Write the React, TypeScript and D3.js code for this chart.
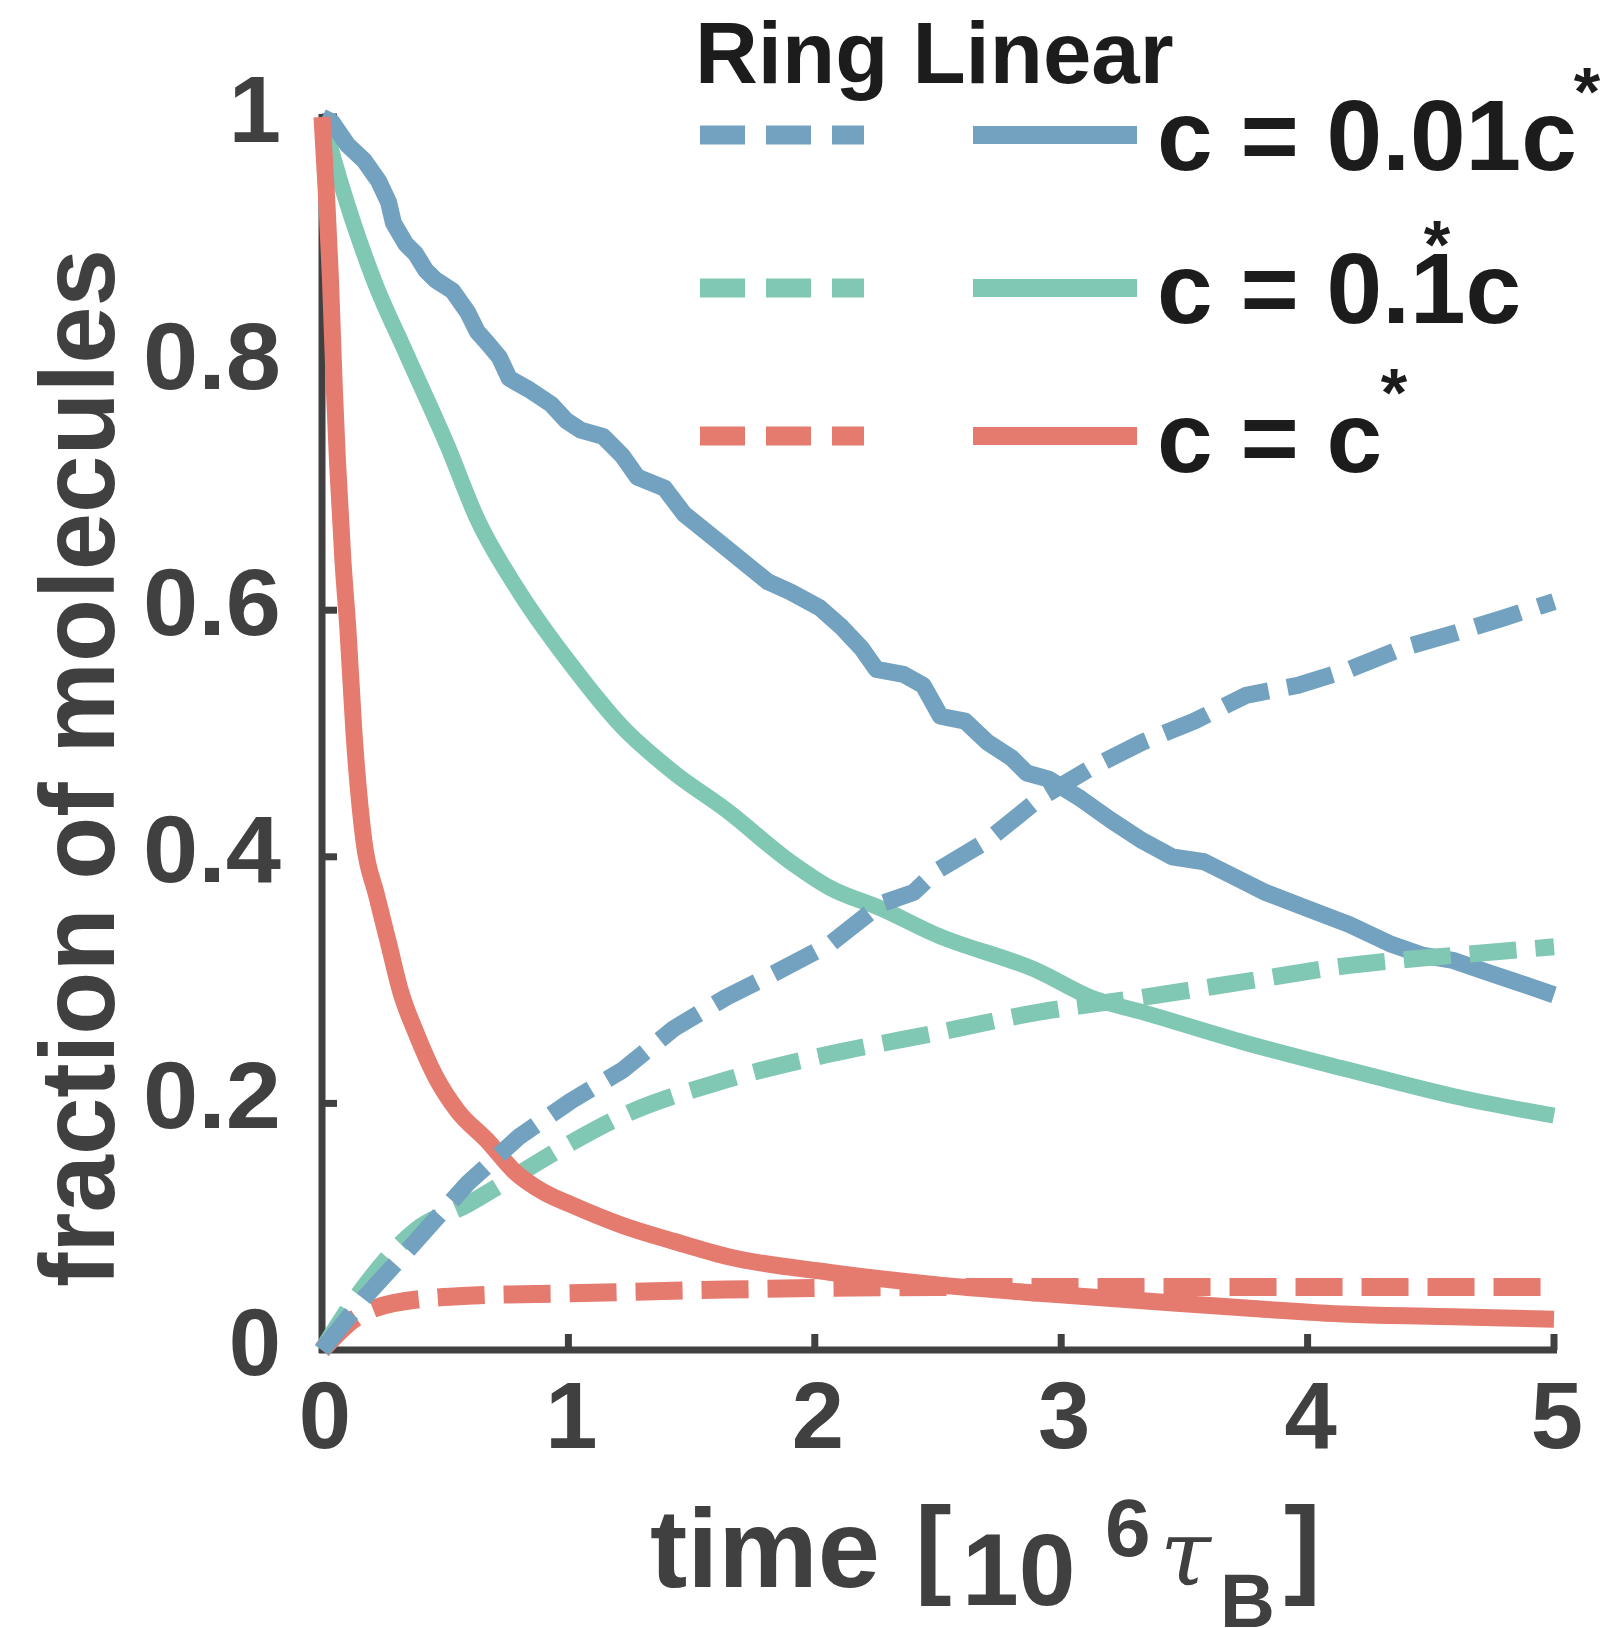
import React from 'react';
import * as d3 from 'd3';

// time in 10^6 tau_B, fraction of molecules
const linear001: [number, number][] = [
  [0, 1.0], [0.04, 0.996], [0.105, 0.977], [0.17, 0.965], [0.23, 0.948], [0.27, 0.931],
  [0.29, 0.914], [0.34, 0.897], [0.38, 0.889], [0.42, 0.876], [0.46, 0.868], [0.53, 0.859],
  [0.59, 0.842], [0.63, 0.826], [0.67, 0.817], [0.72, 0.805], [0.76, 0.788], [0.84, 0.779],
  [0.93, 0.767], [0.99, 0.754], [1.05, 0.746], [1.14, 0.741], [1.22, 0.725], [1.28, 0.708],
  [1.39, 0.699], [1.47, 0.678], [1.60, 0.657], [1.68, 0.644], [1.81, 0.623], [1.90, 0.615],
  [2.02, 0.602], [2.11, 0.586], [2.19, 0.569], [2.25, 0.552], [2.36, 0.548], [2.44, 0.539],
  [2.51, 0.514], [2.61, 0.510], [2.70, 0.493], [2.80, 0.480], [2.86, 0.468], [2.95, 0.463],
  [3.08, 0.447], [3.20, 0.430], [3.33, 0.413], [3.45, 0.400], [3.58, 0.396], [3.71, 0.383],
  [3.83, 0.371], [4.00, 0.358], [4.17, 0.345], [4.34, 0.329], [4.47, 0.320], [4.59, 0.316],
  [4.72, 0.307], [4.84, 0.299], [5.0, 0.288],
];

const linear01: [number, number][] = [
  [0, 1.0], [0.08, 0.944], [0.21, 0.868], [0.34, 0.809], [0.51, 0.733], [0.63, 0.674],
  [0.80, 0.615], [1.01, 0.556], [1.22, 0.505], [1.43, 0.468], [1.64, 0.438], [1.90, 0.396],
  [2.06, 0.375], [2.27, 0.358], [2.49, 0.337], [2.91, 0.307], [3.12, 0.286], [3.33, 0.274],
  [3.75, 0.249], [4.17, 0.227], [4.59, 0.206], [5.0, 0.190],
];

const linear1: [number, number][] = [
  [0, 1.0], [0.02, 0.93], [0.034, 0.870], [0.05, 0.78], [0.063, 0.720], [0.085, 0.64],
  [0.105, 0.585], [0.13, 0.50], [0.17, 0.413], [0.22, 0.370], [0.27, 0.330],
  [0.32, 0.290], [0.38, 0.258], [0.46, 0.222], [0.55, 0.194], [0.67, 0.170], [0.78, 0.145],
  [0.90, 0.128], [1.01, 0.118], [1.22, 0.101], [1.43, 0.088],
  [1.64, 0.076], [2.06, 0.063], [2.49, 0.053], [2.91, 0.046], [3.33, 0.040], [3.75, 0.034],
  [4.17, 0.029], [4.59, 0.027], [5.0, 0.025],
];

const ring001: [number, number][] = [
  [0, 0], [0.17, 0.042], [0.38, 0.088], [0.59, 0.135], [0.80, 0.173], [1.01, 0.202],
  [1.22, 0.227], [1.43, 0.261], [1.64, 0.286], [1.85, 0.307], [2.06, 0.329], [2.27, 0.362],
  [2.40, 0.371], [2.49, 0.388], [2.70, 0.413], [2.91, 0.447], [3.12, 0.472], [3.33, 0.493],
  [3.54, 0.510], [3.75, 0.531], [3.96, 0.539], [4.17, 0.552], [4.38, 0.569], [4.59, 0.581],
  [4.80, 0.594], [5.0, 0.607],
];

const ring01: [number, number][] = [
  [0, 0], [0.17, 0.051], [0.38, 0.097], [0.59, 0.118], [0.80, 0.143], [1.01, 0.168],
  [1.22, 0.190], [1.64, 0.219], [2.06, 0.240], [2.49, 0.257], [2.91, 0.274], [3.33, 0.286],
  [3.75, 0.299], [4.17, 0.312], [4.59, 0.320], [5.0, 0.327],
];

const ring1: [number, number][] = [
  [0, 0], [0.13, 0.025], [0.29, 0.038], [0.59, 0.044], [1.01, 0.046], [1.64, 0.049],
  [2.49, 0.051], [5.0, 0.051],
];

const xTicks = [0, 1, 2, 3, 4, 5];
const yTicks = [0, 0.2, 0.4, 0.6, 0.8, 1];

const BLUE = '#72a2c0';
const GREEN = '#80c8b4';
const RED = '#e57a6e';
const AXIS = '#404040';
const INK = '#1c1c1c';
const FONT = '"Liberation Sans", Arial, Helvetica, sans-serif';

const legendRows = [
  { color: BLUE, label: 'c = 0.01c', y: 135, base: 170, star: [1587, 76] },
  { color: GREEN, label: 'c = 0.1c', y: 288, base: 323, star: [1437, 229] },
  { color: RED, label: 'c = c', y: 436, base: 472, star: [1394, 377] },
];

export default function App() {
  const W = 1614;
  const H = 1628;
  const left = 322, right = 1554, top = 117, bottom = 1350;

  const x = d3.scaleLinear().domain([0, 5]).range([left, right]);
  const y = d3.scaleLinear().domain([0, 1]).range([bottom, top]);
  const jagged = d3.line<[number, number]>().x(d => x(d[0])).y(d => y(d[1]));
  const smooth = d3.line<[number, number]>().x(d => x(d[0])).y(d => y(d[1]))
    .curve(d3.curveMonotoneX);

  const DASH = '47 19';

  const series = [
    { d: linear01, c: GREEN, w: 16, dash: null, gen: smooth },
    { d: linear001, c: BLUE, w: 17, dash: null, gen: jagged },
    { d: ring01, c: GREEN, w: 17, dash: DASH, gen: smooth },
    { d: ring1, c: RED, w: 18, dash: DASH, gen: smooth },
    { d: linear1, c: RED, w: 17, dash: null, gen: smooth },
    { d: ring001, c: BLUE, w: 17, dash: DASH, gen: jagged },
  ];

  return (
    <svg width={W} height={H} style={{ position: 'absolute', left: 0, top: 0, background: '#fff' }}
      fontFamily={FONT}>
      {/* axes */}
      <g stroke={AXIS} strokeWidth={7} fill="none">
        <line x1={left} y1={top - 3} x2={left} y2={bottom + 3} />
        <line x1={left - 3} y1={bottom} x2={right + 3} y2={bottom} />
        {xTicks.slice(1).map(t => (
          <line key={t} x1={x(t)} x2={x(t)} y1={bottom} y2={bottom - 16} />
        ))}
        {yTicks.slice(1).map(t => (
          <line key={t} x1={left} x2={left + 15} y1={y(t)} y2={y(t)} />
        ))}
      </g>

      {/* lines */}
      <g fill="none" strokeLinejoin="round">
        {series.map((s, i) => (
          <path key={i} d={s.gen(s.d) || ''} stroke={s.c} strokeWidth={s.w}
            strokeDasharray={s.dash || undefined} />
        ))}
      </g>

      {/* tick labels */}
      <g fill={AXIS} fontWeight="bold" fontSize={94}>
        {xTicks.map(t => (
          <text key={t} x={x(t) + 3} y={1448} textAnchor="middle">{t}</text>
        ))}
        {yTicks.map(t => {
          const s = d3.format('~g')(t);
          return (
            <text key={t} x={281} y={y(t) + 25} textAnchor="end"
              textLength={s.length > 1 ? 138 : undefined}
              lengthAdjust="spacingAndGlyphs">{s}</text>
          );
        })}
      </g>

      {/* axis labels */}
      <text transform="translate(114,768) rotate(-90)" textAnchor="middle" fill={AXIS}
        fontWeight="bold" fontSize={106} textLength={1038} lengthAdjust="spacingAndGlyphs">
        fraction of molecules
      </text>
      <g fill={AXIS} fontWeight="bold">
        <text x={650} y={1587} fontSize={112} textLength={230} lengthAdjust="spacingAndGlyphs">time</text>
        <text x={915} y={1583} fontSize={110}>[</text>
        <text x={962} y={1605} fontSize={102}>10</text>
        <text x={1105} y={1556} fontSize={82}>6</text>
        <text x={1160} y={1585} fontSize={92} fontStyle="italic" fontWeight="normal"
          fontFamily='"DejaVu Serif", serif'>τ</text>
        <text x={1220} y={1627} fontSize={76}>B</text>
        <text x={1284} y={1583} fontSize={110}>]</text>
      </g>

      {/* legend */}
      <text x={695} y={83} fill={INK} fontWeight="bold" fontSize={87}>Ring Linear</text>
      {legendRows.map((r, i) => (
        <g key={i}>
          <line x1={700} x2={864} y1={r.y} y2={r.y} stroke={r.color} strokeWidth={19}
            strokeDasharray="45 21" />
          <line x1={973} x2={1137} y1={r.y} y2={r.y} stroke={r.color} strokeWidth={18} />
          <text x={1157} y={r.base} fill={INK} fontWeight="bold" fontSize={100}>{r.label}</text>
          <text x={r.star[0]} y={r.star[1] + 39} fill={INK} fontWeight="bold" fontSize={68}
            textAnchor="middle">*</text>
        </g>
      ))}
    </svg>
  );
}
